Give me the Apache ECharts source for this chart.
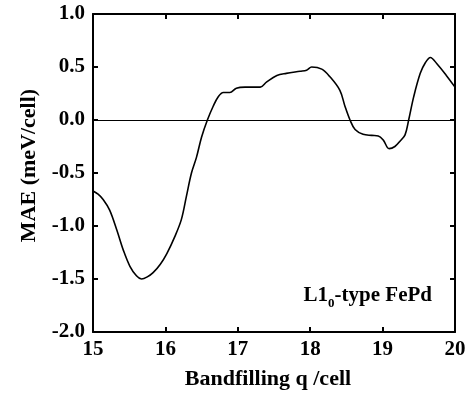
<!DOCTYPE html>
<html>
<head>
<meta charset="utf-8">
<script src="https://cdn.jsdelivr.net/npm/echarts@6/dist/echarts.min.js"></script>
<style>html,body{margin:0;padding:0;background:#fff;}#c{width:473px;height:396px;}</style>
</head>
<body>
<div id="c"></div>
<script>
const qValues = [15.00, 15.07, 15.14, 15.23, 15.33, 15.42, 15.51, 15.60, 15.67, 15.75, 15.83, 15.93, 16.02, 16.13, 16.22, 16.29, 16.36, 16.43, 16.50, 16.58, 16.66, 16.73, 16.80, 16.89, 16.98, 17.10, 17.20, 17.31, 17.40, 17.54, 17.67, 17.86, 17.95, 18.02, 18.16, 18.27, 18.41, 18.48, 18.55, 18.62, 18.73, 18.85, 18.94, 19.01, 19.09, 19.17, 19.24, 19.31, 19.36, 19.43, 19.52, 19.59, 19.66, 19.75, 19.88, 20.00];
const maeValues = [-0.67, -0.70, -0.75, -0.85, -1.04, -1.23, -1.38, -1.47, -1.50, -1.48, -1.44, -1.36, -1.26, -1.10, -0.94, -0.72, -0.50, -0.35, -0.16, 0.00, 0.13, 0.22, 0.26, 0.26, 0.30, 0.31, 0.31, 0.31, 0.36, 0.42, 0.44, 0.46, 0.47, 0.50, 0.48, 0.41, 0.28, 0.13, 0.00, -0.09, -0.135, -0.145, -0.15, -0.19, -0.27, -0.25, -0.20, -0.14, 0.00, 0.22, 0.44, 0.54, 0.59, 0.53, 0.42, 0.31];
const xTicks = [15, 16, 17, 18, 19, 20];
const yTicks = [-2.0, -1.5, -1.0, -0.5, 0.0, 0.5, 1.0];
const xTitle = 'Bandfilling q /cell';
const yTitle = 'MAE (meV/cell)';

const FONT = 'Liberation Serif';
const chart = echarts.init(document.getElementById('c'), null, {renderer: 'canvas'});
const data = qValues.map((q, i) => [q, maeValues[i]]);
const lineStyle = {color: '#000', width: 2};
const tickStyle = {show: true, inside: true, length: 5, lineStyle: {color: '#000', width: 2}};
chart.setOption({
  animation: false,
  backgroundColor: '#fff',
  grid: {left: 93, right: 18, top: 14, bottom: 64},
  xAxis: [{
    type: 'value', min: xTicks[0], max: xTicks[xTicks.length - 1], interval: 1,
    axisLine: {show: true, onZero: false, lineStyle: lineStyle},
    axisTick: tickStyle, splitLine: {show: false},
    axisLabel: {color: '#000', fontFamily: FONT, fontWeight: 'bold', fontSize: 21, margin: 7},
    name: xTitle, nameLocation: 'middle', nameGap: 36,
    nameTextStyle: {color: '#000', fontFamily: FONT, fontWeight: 'bold', fontSize: 22, padding: [0, 12, 0, 0]}
  }, {
    type: 'value', position: 'top', min: xTicks[0], max: xTicks[xTicks.length - 1], interval: 1,
    axisLine: {show: true, onZero: false, lineStyle: lineStyle},
    axisTick: tickStyle, axisLabel: {show: false}, splitLine: {show: false}
  }],
  yAxis: [{
    type: 'value', min: yTicks[0], max: yTicks[yTicks.length - 1], interval: 0.5,
    axisLine: {show: true, onZero: false, lineStyle: lineStyle},
    axisTick: tickStyle, splitLine: {show: false},
    axisLabel: {color: '#000', fontFamily: FONT, fontWeight: 'bold', fontSize: 21, margin: 8,
      formatter: v => v.toFixed(1)},
    name: yTitle, nameLocation: 'middle', nameGap: 53,
    nameTextStyle: {color: '#000', fontFamily: FONT, fontWeight: 'bold', fontSize: 22, padding: [0, 0, 0, 15]}
  }, {
    type: 'value', position: 'right', min: yTicks[0], max: yTicks[yTicks.length - 1], interval: 0.5,
    axisLine: {show: true, onZero: false, lineStyle: lineStyle},
    axisTick: tickStyle, axisLabel: {show: false}, splitLine: {show: false}
  }],
  series: [{
    type: 'line', data: data, xAxisIndex: 0, yAxisIndex: 0,
    smooth: 0.35, showSymbol: false, symbol: 'none',
    lineStyle: {color: '#000', width: 1.6},
    markLine: {
      silent: true, symbol: 'none', label: {show: false},
      lineStyle: {color: '#000', width: 1, type: 'solid'},
      data: [{yAxis: 0}]
    }
  }],
  graphic: [{
    type: 'text', right: 41, top: 285,
    style: {
      text: '{a|L1}{s|0}{a|-type FePd}',
      rich: {
        a: {fontFamily: FONT, fontWeight: 'bold', fontSize: 21, lineHeight: 21, verticalAlign: 'top', fill: '#000'},
        s: {fontFamily: FONT, fontWeight: 'bold', fontSize: 13, lineHeight: 13, verticalAlign: 'top', padding: [12, 0, 0, 0], fill: '#000'}
      }
    }
  }]
});
</script>
</body>
</html>
